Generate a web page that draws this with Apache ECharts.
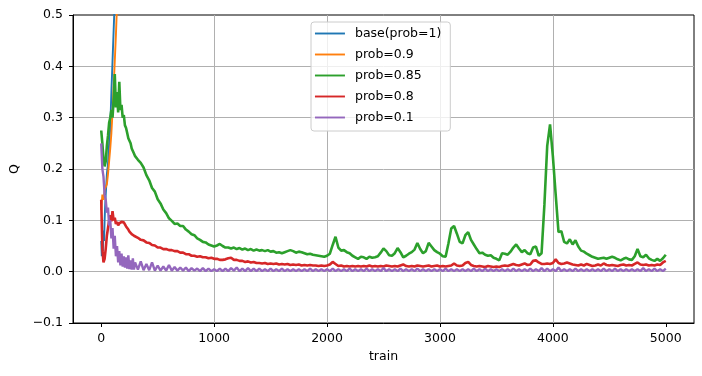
<!DOCTYPE html>
<html>
<head>
<meta charset="utf-8">
<script src="https://cdn.jsdelivr.net/npm/echarts@6/dist/echarts.min.js"></script>
<style>
    html, body { margin: 0; padding: 0; background: #fff; }
    #chart { width: 702px; height: 376px; }
</style>
</head>
<body>
<div id="chart"></div>
<script>
// 训练步数：前300步每10步取一点，之后每25步取一点
const steps = [];
for (let s = 0; s <= 300; s += 10) steps.push(s);
for (let s = 325; s <= 5000; s += 25) steps.push(s);

const xTicks = [0, 1000, 2000, 3000, 4000, 5000];
const seriesNames = ['base(prob=1)', 'prob=0.9', 'prob=0.85', 'prob=0.8', 'prob=0.1'];

// base / 0.9 很快发散，只画到出界
const baseSteps = [0, 5, 10, 15, 20, 25, 30, 35, 40, 50, 60, 70, 80, 90, 100, 110, 120, 140, 200];
const baseQ = [0.06, 0.03, 0.05, 0.04, 0.08, 0.06, 0.1, 0.13, 0.15, 0.19, 0.21, 0.25, 0.28, 0.35, 0.41, 0.47, 0.53, 0.63, 0.95];
const p90Steps = [0, 10, 20, 30, 40, 50, 60, 70, 80, 90, 100, 110, 120, 130, 140, 150, 200];
const p90Q = [0.12, 0.15, 0.14, 0.16, 0.16, 0.17, 0.19, 0.215, 0.24, 0.27, 0.31, 0.36, 0.41, 0.46, 0.52, 0.57, 0.8];

const p85Q = [
    0.275, 0.25, 0.22, 0.205, 0.215, 0.245, 0.265, 0.29, 0.30, 0.315,
    0.30, 0.335, 0.385, 0.32, 0.35, 0.31, 0.37, 0.315, 0.325, 0.30,
    0.305, 0.285, 0.28, 0.27, 0.26, 0.255, 0.25, 0.24, 0.238, 0.23,
    0.225,
    0.218, 0.212, 0.203, 0.188, 0.178, 0.163, 0.156, 0.141,
    0.133, 0.121, 0.114, 0.104, 0.099, 0.093, 0.094, 0.089,
    0.089, 0.082, 0.078, 0.073, 0.071, 0.065, 0.062, 0.058,
    0.057, 0.053, 0.051, 0.049, 0.051, 0.054, 0.05, 0.047,
    0.047, 0.045, 0.047, 0.044, 0.046, 0.043, 0.045, 0.042,
    0.044, 0.041, 0.043, 0.041, 0.042, 0.04, 0.042, 0.039,
    0.04, 0.037, 0.038, 0.036, 0.038, 0.04, 0.042, 0.04,
    0.037, 0.039, 0.038, 0.036, 0.034, 0.035, 0.033, 0.032,
    0.031, 0.03, 0.029, 0.031, 0.035, 0.052, 0.068, 0.047,
    0.041, 0.042, 0.038, 0.036, 0.031, 0.028, 0.025, 0.029,
    0.028, 0.025, 0.029, 0.027, 0.028, 0.03, 0.037, 0.045,
    0.04, 0.032, 0.031, 0.036, 0.046, 0.038, 0.028, 0.031,
    0.035, 0.038, 0.043, 0.056, 0.044, 0.036, 0.04, 0.056,
    0.049, 0.042, 0.038, 0.035, 0.03, 0.029, 0.055, 0.084,
    0.089, 0.074, 0.058, 0.055, 0.071, 0.077, 0.062, 0.053,
    0.044, 0.036, 0.037, 0.033, 0.031, 0.032, 0.027, 0.025,
    0.022, 0.036, 0.035, 0.033, 0.039, 0.047, 0.053, 0.045,
    0.038, 0.042, 0.036, 0.034, 0.047, 0.049, 0.031, 0.036,
    0.13, 0.245, 0.287, 0.225, 0.15, 0.077, 0.079, 0.058,
    0.055, 0.063, 0.053, 0.061, 0.049, 0.041, 0.039, 0.035,
    0.032, 0.029, 0.027, 0.025, 0.026, 0.027, 0.025, 0.027,
    0.029, 0.027, 0.024, 0.022, 0.025, 0.027, 0.024, 0.023,
    0.03, 0.044, 0.03, 0.028, 0.033, 0.026, 0.023, 0.021,
    0.025, 0.021, 0.026, 0.033
];

const p80Q = [
    0.14, 0.045, 0.018, 0.025, 0.045, 0.07, 0.085, 0.1, 0.11, 0.098,
    0.118, 0.1, 0.105, 0.093, 0.097, 0.09, 0.094, 0.092, 0.097, 0.094,
    0.096, 0.092, 0.088, 0.085, 0.082, 0.078, 0.076, 0.073, 0.072, 0.07,
    0.067,
    0.066, 0.062, 0.061, 0.057, 0.056, 0.052, 0.051, 0.047,
    0.047, 0.044, 0.044, 0.042, 0.042, 0.04, 0.04, 0.037,
    0.037, 0.034, 0.034, 0.031, 0.031, 0.029, 0.03, 0.028,
    0.028, 0.026, 0.027, 0.025, 0.025, 0.023, 0.023, 0.024,
    0.026, 0.027, 0.023, 0.023, 0.021, 0.021, 0.019, 0.02,
    0.018, 0.019, 0.017, 0.017, 0.016, 0.017, 0.015, 0.016,
    0.015, 0.016, 0.014, 0.015, 0.014, 0.015, 0.013, 0.014,
    0.013, 0.014, 0.012, 0.013, 0.012, 0.013, 0.012, 0.012,
    0.011, 0.012, 0.011, 0.012, 0.014, 0.019, 0.015, 0.011,
    0.012, 0.01, 0.011, 0.01, 0.011, 0.01, 0.011, 0.01,
    0.011, 0.01, 0.012, 0.01, 0.011, 0.01, 0.011, 0.01,
    0.012, 0.011, 0.01, 0.011, 0.01, 0.012, 0.014, 0.011,
    0.01, 0.011, 0.01, 0.012, 0.011, 0.01, 0.011, 0.012,
    0.01, 0.011, 0.012, 0.01, 0.011, 0.01, 0.011, 0.012,
    0.016, 0.012, 0.011, 0.012, 0.017, 0.019, 0.013, 0.011,
    0.01, 0.011, 0.01, 0.009, 0.011, 0.01, 0.009, 0.01,
    0.009, 0.011, 0.012, 0.011, 0.013, 0.015, 0.013, 0.012,
    0.014, 0.016, 0.013, 0.014, 0.021, 0.022, 0.018, 0.015,
    0.015, 0.016, 0.015, 0.017, 0.024, 0.017, 0.015, 0.016,
    0.018, 0.016, 0.014, 0.013, 0.012, 0.014, 0.012, 0.015,
    0.013, 0.011, 0.012, 0.014, 0.012, 0.016, 0.013, 0.012,
    0.013, 0.012, 0.011, 0.013, 0.014, 0.012, 0.013, 0.012,
    0.015, 0.018, 0.014, 0.013, 0.014, 0.012, 0.013, 0.012,
    0.014, 0.013, 0.018, 0.021
];

const p10Q = [
    0.25, 0.2, 0.185, 0.15, 0.14, 0.115, 0.125, 0.09, 0.1, 0.065,
    0.085, 0.045, 0.07, 0.03, 0.05, 0.018, 0.04, 0.012, 0.035, 0.01,
    0.03, 0.008, 0.028, 0.006, 0.032, 0.005, 0.022, 0.004, 0.026, 0.004,
    0.018,
    0.004, 0.02, 0.003, 0.015, 0.003, 0.018, 0.002, 0.012,
    0.002, 0.01, 0.002, 0.013, 0.002, 0.009, 0.002, 0.008,
    0.002, 0.008, 0.001, 0.007, 0.002, 0.006, 0.001, 0.007,
    0.001, 0.006, 0.001, 0.005, 0.001, 0.006, 0.001, 0.006,
    0.001, 0.007, 0.002, 0.008, 0.001, 0.006, 0.001, 0.007,
    0.001, 0.006, 0.001, 0.006, 0.001, 0.005, 0.001, 0.006,
    0.001, 0.005, 0.001, 0.006, 0.001, 0.005, 0.001, 0.005,
    0.001, 0.005, 0.001, 0.005, 0.001, 0.006, 0.001, 0.005,
    0.001, 0.005, 0.001, 0.005, 0.001, 0.006, 0.001, 0.005,
    0.001, 0.005, 0.001, 0.006, 0.001, 0.005, 0.001, 0.005,
    0.001, 0.006, 0.001, 0.005, 0.001, 0.005, 0.001, 0.007,
    0.001, 0.005, 0.001, 0.005, 0.001, 0.006, 0.001, 0.005,
    0.001, 0.005, 0.001, 0.006, 0.001, 0.005, 0.001, 0.005,
    0.001, 0.005, 0.001, 0.005, 0.001, 0.006, 0.001, 0.005,
    0.001, 0.005, 0.001, 0.005, 0.001, 0.005, 0.001, 0.006,
    0.001, 0.005, 0.001, 0.006, 0.001, 0.005, 0.001, 0.005,
    0.001, 0.005, 0.001, 0.005, 0.001, 0.006, 0.001, 0.005,
    0.001, 0.005, 0.001, 0.006, 0.001, 0.005, 0.001, 0.007,
    0.001, 0.006, 0.001, 0.005, 0.001, 0.008, 0.001, 0.005,
    0.001, 0.005, 0.001, 0.006, 0.001, 0.005, 0.001, 0.005,
    0.001, 0.005, 0.001, 0.005, 0.001, 0.006, 0.001, 0.005,
    0.001, 0.006, 0.001, 0.005, 0.001, 0.005, 0.001, 0.005,
    0.001, 0.005, 0.001, 0.007, 0.001, 0.005, 0.001, 0.006,
    0.001, 0.005, 0.001, 0.006
];

const colors = ['#1f77b4', '#ff7f0e', '#2ca02c', '#d62728', '#9467bd'];

function toPairs(xs, ys) {
    return ys.map((y, i) => [xs[i], y]);
}

function makeLine(name, data, color, width) {
    return {
        name: name,
        type: 'line',
        data: data,
        symbol: 'none',
        clip: true,
        lineStyle: { color: color, width: width },
        itemStyle: { color: color }
    };
}

const font = 'DejaVu Sans';
const chart = echarts.init(document.getElementById('chart'));

chart.setOption({
    animation: false,
    textStyle: { fontFamily: font },
    grid: {
        left: 73, right: 8, top: 15, bottom: 53,
        show: true, borderColor: '#000', borderWidth: 1, backgroundColor: 'transparent'
    },
    legend: {
        orient: 'vertical',
        left: 311,
        top: 22,
        itemWidth: 30,
        itemHeight: 14,
        itemGap: 8,
        padding: [5, 9, 7, 3],
        borderColor: '#cccccc',
        borderWidth: 1,
        borderRadius: 3,
        backgroundColor: 'rgba(255,255,255,0.8)',
        itemStyle: { opacity: 0 },
        lineStyle: { width: 1.9 },
        textStyle: { fontFamily: font, fontSize: 12.5, color: '#000', padding: [0, 0, 0, 5] },
        data: seriesNames
    },
    xAxis: {
        type: 'value',
        min: -250,
        max: 5250,
        name: 'train',
        nameLocation: 'middle',
        nameGap: 27,
        nameTextStyle: { fontFamily: font, fontSize: 12.5, color: '#000' },
        axisLine: { show: true, onZero: false, lineStyle: { color: '#000', width: 1 } },
        axisTick: { show: true, length: 4, customValues: xTicks, lineStyle: { color: '#000' } },
        axisLabel: {
            customValues: xTicks,
            margin: 9,
            fontFamily: font, fontSize: 12.5, color: '#000',
            formatter: v => String(v)
        },
        splitLine: { show: true, showMinLine: false, showMaxLine: false, lineStyle: { color: '#b0b0b0', width: 1 } }
    },
    yAxis: {
        type: 'value',
        min: -0.1,
        max: 0.5,
        interval: 0.1,
        name: 'Q',
        nameLocation: 'middle',
        nameGap: 48,
        nameTextStyle: { fontFamily: font, fontSize: 12.5, color: '#000' },
        axisLine: { show: true, onZero: false, lineStyle: { color: '#000', width: 1 } },
        axisTick: { show: true, length: 4, lineStyle: { color: '#000' } },
        axisLabel: {
            margin: 10,
            fontFamily: font, fontSize: 12.5, color: '#000',
            formatter: v => (v < -1e-9 ? '\u2212' : '') + Math.abs(v).toFixed(1)
        },
        splitLine: { show: true, showMinLine: false, showMaxLine: false, lineStyle: { color: '#b0b0b0', width: 1 } }
    },
    series: [
        makeLine(seriesNames[0], toPairs(baseSteps, baseQ), colors[0], 1.9),
        makeLine(seriesNames[1], toPairs(p90Steps, p90Q), colors[1], 1.9),
        makeLine(seriesNames[2], toPairs(steps, p85Q), colors[2], 2.6),
        makeLine(seriesNames[3], toPairs(steps, p80Q), colors[3], 2.6),
        makeLine(seriesNames[4], toPairs(steps, p10Q), colors[4], 2.4)
    ]
});
</script>
</body>
</html>
